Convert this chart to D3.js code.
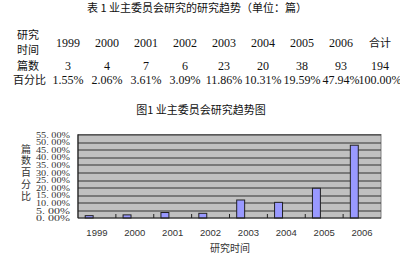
<!DOCTYPE html>
<html>
<head>
<meta charset="utf-8">
<script src="https://cdnjs.cloudflare.com/ajax/libs/d3/7.8.5/d3.min.js"></script>
<style>
  body { margin: 0; background: #fff; }
  svg { display: block; }
</style>
</head>
<body>
<svg id="chart"></svg>
<script>
// données du tableau / graphique
var years = ["1999", "2000", "2001", "2002", "2003", "2004", "2005", "2006"];
var counts = [3, 4, 7, 6, 23, 20, 38, 93];
var percents = [1.55, 2.06, 3.61, 3.09, 11.86, 10.31, 19.59, 47.94];
var totalCount = 194;
var totalPercent = "100.00%";
var yTicks = [0, 5, 10, 15, 20, 25, 30, 35, 40, 45, 50, 55];

var cjk = "'Noto Sans CJK SC', sans-serif";
var serif = "'Liberation Serif', 'DejaVu Serif', serif";

var svg = d3.select("#chart").attr("width", 400).attr("height", 261);

// --- tableau ---
svg.append("text")
    .attr("x", 197).attr("y", 8)
    .attr("dy", "0.35em")
    .attr("text-anchor", "middle")
    .style("font", "11px " + cjk)
    .attr("fill", "#111")
    .text("表 1  业主委员会研究的研究趋势（单位：篇）");

var colX = d3.scalePoint()
    .domain(years.concat(["合计"]))
    .range([68, 380]);

var tbl = svg.append("g").attr("fill", "#111");

// en-têtes de lignes
[["研究", 28, 35], ["时间", 28, 50], ["篇数", 28, 66], ["百分比", 29.5, 80]].forEach(function(r) {
    tbl.append("text")
        .attr("x", r[1]).attr("y", r[2]).attr("dy", "0.35em")
        .attr("text-anchor", "middle")
        .style("font", "11px " + cjk)
        .text(r[0]);
});

function row(vals, y) {
    tbl.selectAll(null)
        .data(vals)
        .enter().append("text")
        .attr("x", function(d, i) { return colX(colX.domain()[i]); })
        .attr("y", y).attr("dy", "0.35em")
        .attr("text-anchor", "middle")
        .style("font", function(d) { return (d === "合计" ? "11px " + cjk : "12px " + serif); })
        .text(function(d) { return d; });
}
row(years.concat(["合计"]), 43);
row(counts.concat([totalCount]), 66);
row(percents.map(function(p) { return p.toFixed(2) + "%"; }).concat([totalPercent]), 80);

// --- graphique ---
svg.append("text")
    .attr("x", 201).attr("y", 110).attr("dy", "0.35em")
    .attr("text-anchor", "middle")
    .style("font", "11px " + cjk)
    .attr("fill", "#111")
    .text("图1  业主委员会研究趋势图");

var margin = { top: 134.5, left: 78, right: 19, bottom: 43 };
var width = 400 - margin.left - margin.right,
    height = 261 - margin.top - margin.bottom;

var g = svg.append("g").attr("transform", "translate(" + margin.left + "," + margin.top + ")");

var x = d3.scaleBand().domain(years).range([0, width]).padding(0);
var y = d3.scaleLinear().domain([0, 55]).range([height, 0]);

g.append("rect")
    .attr("width", width).attr("height", height)
    .attr("fill", "#c0c0c0")
    .attr("stroke", "#808080");

// lignes de grille
g.selectAll(".grid")
    .data(yTicks.slice(1))
    .enter().append("line")
    .attr("x1", 0).attr("x2", width)
    .attr("y1", function(d) { return Math.round(y(d)) + 0.5; })
    .attr("y2", function(d) { return Math.round(y(d)) + 0.5; })
    .attr("stroke", "#333")
    .attr("stroke-width", 1);

// barres
g.selectAll(".bar")
    .data(percents)
    .enter().append("rect")
    .attr("x", function(d, i) { return x(years[i]) + x.bandwidth() * 0.19; })
    .attr("width", x.bandwidth() * 0.21)
    .attr("y", function(d) { return y(d); })
    .attr("height", function(d) { return height - y(d); })
    .attr("fill", "#9999ff")
    .attr("stroke", "#222")
    .attr("stroke-width", 1);

// axes
var xAxis = g.append("g")
    .attr("transform", "translate(0," + height + ")");
xAxis.append("line").attr("x1", 0).attr("x2", width).attr("stroke", "#222").attr("stroke-width", 1.2);
xAxis.selectAll(".tk")
    .data(years.slice(1))
    .enter().append("line")
    .attr("x1", function(d) { return x(d); })
    .attr("x2", function(d) { return x(d); })
    .attr("y1", -4).attr("y2", 0)
    .attr("stroke", "#222");
xAxis.selectAll(".lbl")
    .data(years)
    .enter().append("text")
    .attr("x", function(d) { return x(d) + x.bandwidth() / 2; })
    .attr("y", 15).attr("dy", "0.35em")
    .attr("text-anchor", "middle")
    .attr("fill", "#333")
    .style("font", "9.5px 'Liberation Sans', sans-serif")
    .text(function(d) { return d; });

g.append("line")
    .attr("x1", 0).attr("x2", 0).attr("y1", 0).attr("y2", height)
    .attr("stroke", "#222").attr("stroke-width", 1.2);

g.selectAll(".ylbl")
    .data(yTicks)
    .enter().append("text")
    .attr("x", -8).attr("y", function(d) { return y(d); })
    .attr("dy", "0.35em")
    .attr("text-anchor", "end")
    .attr("fill", "#333")
    .attr("textLength", 34)
    .attr("lengthAdjust", "spacingAndGlyphs")
    .style("font", "9px 'Liberation Serif', serif")
    .text(function(d) { return d + ". 00%"; });

// titres des axes
svg.append("text")
    .attr("x", 230).attr("y", 248).attr("dy", "0.35em")
    .attr("text-anchor", "middle")
    .attr("fill", "#333")
    .style("font", "10px " + cjk)
    .text("研究时间");

svg.selectAll(".ytitle")
    .data("篇数百分比".split(""))
    .enter().append("text")
    .attr("x", 26).attr("y", function(d, i) { return 149 + i * 11.8; })
    .attr("dy", "0.35em")
    .attr("text-anchor", "middle")
    .attr("fill", "#333")
    .style("font", "10px " + cjk)
    .text(function(d) { return d; });
</script>
</body>
</html>
